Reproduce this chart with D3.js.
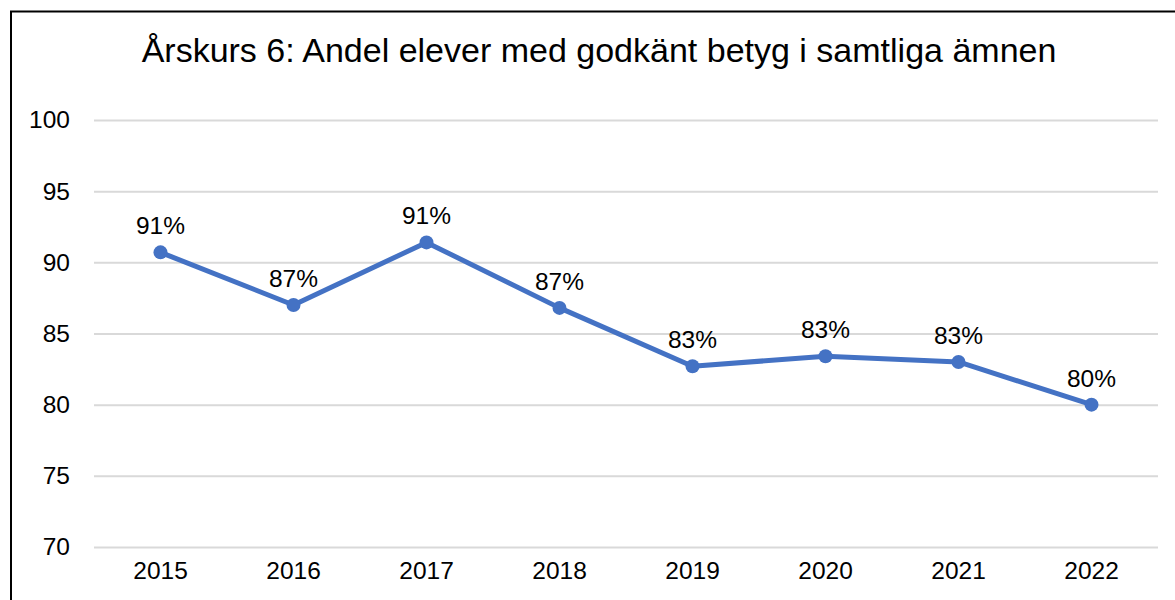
<!DOCTYPE html>
<html><head><meta charset="utf-8">
<script src="https://cdn.jsdelivr.net/npm/d3@7"></script>
<style>body{margin:0;background:#fff}svg{display:block;font-family:"Liberation Sans",Arial,sans-serif}</style>
</head><body>
<svg id="c" width="1175" height="600"></svg>
<script>
const title = "Årskurs 6: Andel elever med godkänt betyg i samtliga ämnen";
const years = ["2015","2016","2017","2018","2019","2020","2021","2022"];
const values = [90.7, 87.0, 91.4, 86.8, 82.7, 83.4, 83.0, 80.0];
const labels = ["91%","87%","91%","87%","83%","83%","83%","80%"];
const yTicks = [70,75,80,85,90,95,100];

const svg = d3.select("#c");
const W = 1175, H = 600;
const m = {left:94, right:1158, top:120, bottom:547};

svg.append("rect").attr("x",0).attr("y",0).attr("width",W).attr("height",H).attr("fill","#fff");
svg.append("path").attr("d",`M11,600 V11.5 H1175`).attr("fill","none").attr("stroke","#000").attr("stroke-width",2);

const x = d3.scaleBand().domain(years).range([m.left,m.right]);
const y = d3.scaleLinear().domain([70,100]).range([m.bottom,m.top]);

svg.append("text").attr("x",599).attr("y",62).attr("text-anchor","middle")
  .attr("font-size",34).attr("fill","#000").text(title);

const ya = svg.append("g").attr("transform",`translate(${m.left},0)`)
  .call(d3.axisLeft(y).tickValues(yTicks).tickSize(-(m.right-m.left)).tickPadding(24));
ya.select(".domain").remove();
ya.selectAll(".tick line").attr("stroke","#d9d9d9").attr("stroke-width",2);
ya.selectAll(".tick text").attr("font-size",24.5).attr("fill","#000").attr("font-family","Liberation Sans, Arial, sans-serif").attr("dx",0);

const xa = svg.append("g").attr("transform",`translate(0,${m.bottom})`)
  .call(d3.axisBottom(x).tickSize(0).tickPadding(15));
xa.select(".domain").remove();
xa.selectAll(".tick text").attr("font-size",24.5).attr("fill","#000").attr("font-family","Liberation Sans, Arial, sans-serif");

const pts = years.map((d,i)=>({yr:d,v:values[i],l:labels[i]}));
const line = d3.line().x(d=>x(d.yr)+x.bandwidth()/2).y(d=>y(d.v));
svg.append("path").datum(pts).attr("d",line).attr("fill","none")
  .attr("stroke","#4472C4").attr("stroke-width",5).attr("stroke-linejoin","round").attr("stroke-linecap","round");
svg.selectAll("circle.pt").data(pts).join("circle").attr("class","pt")
  .attr("cx",d=>x(d.yr)+x.bandwidth()/2).attr("cy",d=>y(d.v)).attr("r",7).attr("fill","#4472C4");
svg.selectAll("text.lbl").data(pts).join("text").attr("class","lbl")
  .attr("x",d=>x(d.yr)+x.bandwidth()/2).attr("y",d=>y(d.v)-18)
  .attr("text-anchor","middle").attr("font-size",24.5).attr("fill","#000").text(d=>d.l);
</script>
</body></html>
